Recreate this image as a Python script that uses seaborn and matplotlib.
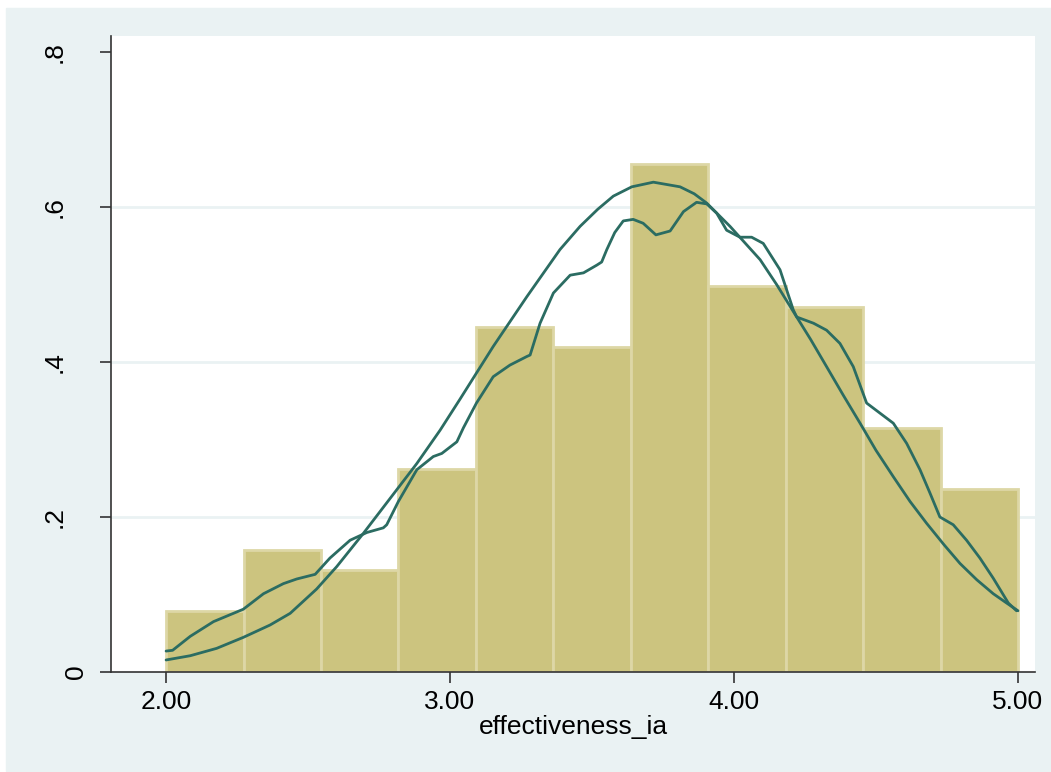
import numpy as np
import pandas as pd
import matplotlib
matplotlib.use("Agg")
import matplotlib.pyplot as plt
import matplotlib.transforms as mtransforms
import seaborn as sns

sns.set_style("white")
plt.rcParams["font.family"] = ["Liberation Sans", "DejaVu Sans"]
plt.rcParams["text.color"] = "black"
plt.rcParams["xtick.color"] = "black"
plt.rcParams["ytick.color"] = "black"
plt.rcParams["axes.labelcolor"] = "black"

# Histogram (11 bins between 2 and 5, N = 140)
bin_edges = [2.0, 2.2727, 2.5455, 2.8182, 3.0909, 3.3636, 3.6364, 3.9091, 4.1818, 4.4545, 4.7273, 5.0]
bin_counts = [3, 6, 5, 10, 17, 16, 25, 19, 18, 12, 9]

# Kernel density curve
kde_x = [2.000, 2.023, 2.085, 2.167, 2.272, 2.343, 2.413, 2.460, 2.525, 2.577,
         2.648, 2.707, 2.765, 2.777, 2.818, 2.883, 2.941, 2.971, 3.024, 3.047,
         3.093, 3.152, 3.211, 3.270, 3.282, 3.317, 3.364, 3.423, 3.470, 3.517,
         3.534, 3.552, 3.580, 3.610, 3.645, 3.680, 3.725, 3.775, 3.822, 3.868,
         3.904, 3.939, 3.974, 4.021, 4.062, 4.103, 4.162, 4.209, 4.221, 4.280,
         4.326, 4.373, 4.420, 4.467, 4.514, 4.561, 4.608, 4.655, 4.690, 4.725,
         4.772, 4.819, 4.866, 4.913, 4.966, 4.995]
kde_y = [0.027, 0.028, 0.046, 0.065, 0.081, 0.101, 0.114, 0.120, 0.126, 0.147,
         0.170, 0.180, 0.186, 0.190, 0.220, 0.261, 0.278, 0.282, 0.297, 0.315,
         0.347, 0.381, 0.396, 0.407, 0.409, 0.450, 0.489, 0.512, 0.515, 0.525,
         0.529, 0.545, 0.567, 0.582, 0.584, 0.579, 0.564, 0.569, 0.594, 0.606,
         0.604, 0.592, 0.570, 0.561, 0.561, 0.553, 0.519, 0.467, 0.458, 0.450,
         0.441, 0.424, 0.394, 0.347, 0.334, 0.321, 0.295, 0.261, 0.231, 0.200,
         0.190, 0.170, 0.147, 0.121, 0.089, 0.079]

# Normal density curve
norm_x = [2.000, 2.085, 2.178, 2.272, 2.366, 2.437, 2.530, 2.601, 2.695, 2.789,
          2.883, 2.965, 3.035, 3.152, 3.270, 3.387, 3.458, 3.520, 3.575, 3.640,
          3.716, 3.810, 3.860, 3.904, 3.986, 4.092, 4.150, 4.209, 4.270, 4.326,
          4.385, 4.444, 4.500, 4.561, 4.620, 4.678, 4.740, 4.796, 4.855, 4.913,
          4.960, 5.000]
norm_y = [0.0155, 0.021, 0.0305, 0.0447, 0.0606, 0.0757, 0.107, 0.136, 0.179, 0.224,
          0.269, 0.312, 0.352, 0.420, 0.484, 0.545, 0.575, 0.597, 0.614, 0.626,
          0.632, 0.626, 0.617, 0.605, 0.575, 0.532, 0.500, 0.465, 0.429, 0.394,
          0.357, 0.321, 0.286, 0.252, 0.220, 0.192, 0.164, 0.140, 0.119, 0.101,
          0.089, 0.079]

x_ticks = [2, 3, 4, 5]
x_ticklabels = ["2.00", "3.00", "4.00", "5.00"]
y_ticks = [0, 0.2, 0.4, 0.6, 0.8]
y_ticklabels = ["0", ".2", ".4", ".6", ".8"]
grid_y = [0.2, 0.4, 0.6]

bg = "#EAF2F3"
bar_fill = "#CCC47F"
bar_edge = "#DDD7A6"
line_col = "#2B6C62"

bin_mids = [(a + b) / 2 for a, b in zip(bin_edges[:-1], bin_edges[1:])]
hist_df = pd.DataFrame({"mid": bin_mids, "count": bin_counts})

fig = plt.figure(figsize=(10.51, 7.72), dpi=100, facecolor="white")
# light graph region (Stata style)
fig.patches.append(plt.Rectangle((6 / 1051, 1 / 772), 1 - 6 / 1051, 1 - 9 / 772,
                                 transform=fig.transFigure, color=bg, zorder=-10))
ax = fig.add_axes([111 / 1051, 100 / 772, 924 / 1051, 636 / 772])
ax.set_facecolor("white")

for g in grid_y:
    ax.axhline(g, color=bg, lw=2, zorder=0)

sns.histplot(data=hist_df, x="mid", weights="count", bins=bin_edges, stat="density",
             color=bar_fill, edgecolor=bar_edge, linewidth=2, alpha=1, ax=ax, zorder=1)

sns.lineplot(x=kde_x, y=kde_y, color=line_col, lw=2, estimator=None, sort=False, ax=ax, zorder=3)
sns.lineplot(x=norm_x, y=norm_y, color=line_col, lw=2, estimator=None, sort=False, ax=ax, zorder=3)

ax.set_xlim(1.806, 5.060)
ax.set_ylim(0, 0.8206)

ax.set_xticks(x_ticks)
ax.set_xticklabels(x_ticklabels, fontsize=19)
ax.set_yticks(y_ticks)
ax.set_yticklabels(y_ticklabels, fontsize=19, rotation=90, va="center")

ax.tick_params(axis="x", direction="out", length=8, width=1.2, color="#333333", pad=5, bottom=True)
ax.tick_params(axis="y", direction="out", length=8, width=1.2, color="#333333", pad=24, left=True)

# Stata puts the "0" label a bit closer to the axis
zero_lbl = ax.get_yticklabels()[0]
zero_lbl.set_transform(zero_lbl.get_transform()
                       + mtransforms.ScaledTranslation(0.21, 0, fig.dpi_scale_trans))

ax.set_xlabel("effectiveness_ia", fontsize=19, labelpad=1)
ax.set_ylabel("")

for side in ["top", "right"]:
    ax.spines[side].set_visible(False)
for side in ["left", "bottom"]:
    ax.spines[side].set_color("#333333")
    ax.spines[side].set_linewidth(1.2)

fig.savefig("out.png", dpi=100, facecolor="white")
